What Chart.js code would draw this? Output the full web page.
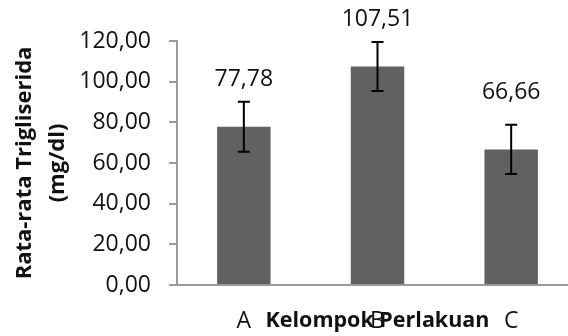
<!DOCTYPE html>
<html>
<head>
<meta charset="utf-8">
<script src="https://cdn.jsdelivr.net/npm/chart.js@4"></script>
<style>
  html, body { margin: 0; padding: 0; background: #fff; overflow: hidden; }
  #wrap { width: 568px; height: 336px; overflow: hidden; }
</style>
</head>
<body>
<div id="wrap"><canvas id="trig-chart" width="578" height="336"></canvas></div>
<script>
// values
const groups = ['A', 'B', 'C'];
const meanTG = [77.78, 107.51, 66.66];
const sdTG = [12.3, 12.05, 12.1];
const yTicks = [0, 20, 40, 60, 80, 100, 120];

const fmt = v => v.toFixed(2).replace('.', ',');
const FONT = "'Open Sans', sans-serif";

// error bars + value labels on top of each bar
const errorBarPlugin = {
  id: 'errorBars',
  afterDatasetsDraw(chart) {
    const ctx = chart.ctx;
    const y = chart.scales.y;
    const meta = chart.getDatasetMeta(0);
    const lift = [22, 22, 32];
    ctx.save();
    meta.data.forEach((bar, i) => {
      const top = y.getPixelForValue(meanTG[i] + sdTG[i]);
      const bot = y.getPixelForValue(meanTG[i] - sdTG[i]);
      ctx.strokeStyle = '#000';
      ctx.lineWidth = 2;
      ctx.beginPath();
      ctx.moveTo(bar.x, top); ctx.lineTo(bar.x, bot);
      ctx.moveTo(bar.x - 6, top); ctx.lineTo(bar.x + 6, top);
      ctx.moveTo(bar.x - 6, bot); ctx.lineTo(bar.x + 6, bot);
      ctx.stroke();
      ctx.fillStyle = '#111';
      ctx.font = '23px ' + FONT;
      ctx.textAlign = 'center';
      ctx.textBaseline = 'middle';
      ctx.fillText(fmt(meanTG[i]), bar.x, top - lift[i]);
    });
    ctx.restore();
  }
};

new Chart(document.getElementById('trig-chart'), {
  type: 'bar',
  data: {
    labels: groups,
    datasets: [{
      data: meanTG,
      backgroundColor: '#616161',
      borderWidth: 0,
      barPercentage: 0.4,
      categoryPercentage: 1
    }]
  },
  options: {
    responsive: false,
    animation: false,
    events: [],
    layout: { padding: { top: 41, left: 0, right: 0, bottom: 0 } },
    plugins: {
      legend: { display: false },
      tooltip: { enabled: false }
    },
    scales: {
      x: {
        afterFit: s => { s.height = 51; },
        grid: { display: false },
        border: { display: true, color: '#9a9a9a', width: 2 },
        ticks: { color: '#111', font: { family: FONT, size: 23 }, padding: 15 },
        title: {
          display: true,
          text: 'Kelompok Perlakuan',
          color: '#111',
          font: { family: FONT, size: 21.5, weight: 'bold' },
          padding: { top: 0, bottom: 2 }
        }
      },
      y: {
        min: 0,
        max: 120,
        afterFit: s => { s.width = 177; },
        afterBuildTicks: s => { s.ticks = yTicks.map(v => ({ value: v })); },
        grid: { drawOnChartArea: false, drawTicks: true, tickLength: 8, color: '#9a9a9a', lineWidth: 2 },
        border: { display: true, color: '#9a9a9a', width: 2 },
        ticks: {
          color: '#111',
          font: { family: FONT, size: 23 },
          padding: 18,
          callback: v => fmt(v)
        },
        title: {
          display: true,
          text: ['Rata-rata Trigliserida', '(mg/dl)'],
          color: '#111',
          font: { family: FONT, size: 22, weight: 'bold', lineHeight: 1.5 },
          padding: { top: 8.5, bottom: 0 }
        }
      }
    }
  },
  plugins: [errorBarPlugin]
});
</script>
</body>
</html>
